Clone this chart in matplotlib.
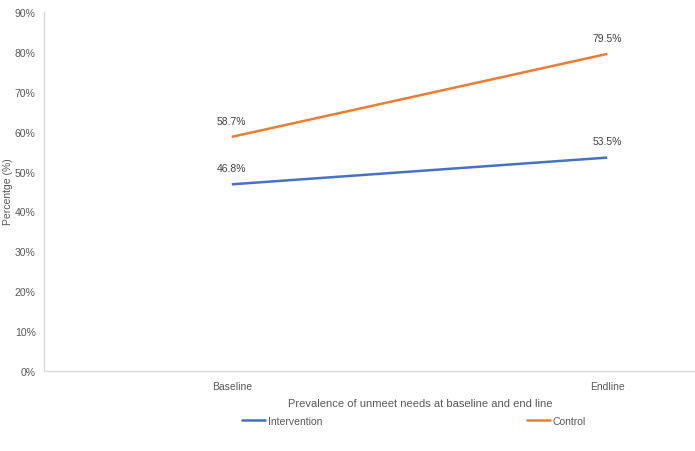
import matplotlib
matplotlib.use("Agg")
import matplotlib.pyplot as plt
from matplotlib.ticker import FuncFormatter

categories = ["Baseline", "Endline"]
intervention = [46.8, 53.5]
control = [58.7, 79.5]
yticks = list(range(0, 91, 10))

plt.rcParams['font.family'] = ['Liberation Sans', 'DejaVu Sans']
gray = '#595959'
blue = '#4472C4'
orange = '#ED7D31'
fs = 7.5

fig = plt.figure(figsize=(6.95, 4.52), dpi=100)
ax = fig.add_axes([44/695, 80/452, 751/695, 359/452])

x = list(range(len(categories)))
l1, = ax.plot(x, intervention, color=blue, lw=1.8, solid_capstyle='butt', label='Intervention')
l2, = ax.plot(x, control, color=orange, lw=1.8, solid_capstyle='butt', label='Control')

for xs, vals in [(x, intervention), (x, control)]:
    for xi, v in zip(xs, vals):
        ax.annotate(f"{v:.1f}%", (xi, v), xytext=(0, 8), textcoords='offset points',
                    ha='center', va='bottom', fontsize=fs, color='#404040')

ax.set_xlim(-0.5, 1.5)
ax.set_ylim(0, 90)
ax.set_yticks(yticks)
ax.yaxis.set_major_formatter(FuncFormatter(lambda v, p: f"{int(v)}%"))
ax.set_xticks(x)
ax.set_xticklabels(categories)
ax.tick_params(axis='both', length=0, labelsize=fs, colors=gray)
ax.tick_params(axis='x', pad=7)
ax.tick_params(axis='y', pad=6)

for s in ['top', 'right']:
    ax.spines[s].set_visible(False)
for s in ['left', 'bottom']:
    ax.spines[s].set_color('#D9D9D9')
    ax.spines[s].set_linewidth(1.0)

fig.text(8/695, 1 - 192/452, "Percentge (%)", rotation=90, ha='center', va='center',
         fontsize=fs, color=gray)
fig.text(420/695, 1 - 404/452, "Prevalence of unmeet needs at baseline and end line",
         ha='center', va='center', fontsize=fs + 0.5, color=gray)

leg = fig.legend(handles=[l1, l2], loc='center left', bbox_to_anchor=(241/695, 1 - 422/452),
                 ncol=2, frameon=False, fontsize=fs, handlelength=2.4, handletextpad=0.2,
                 columnspacing=19.5, borderpad=0, borderaxespad=0)
for t in leg.get_texts():
    t.set_color(gray)

fig.savefig("out.png", dpi=100)
